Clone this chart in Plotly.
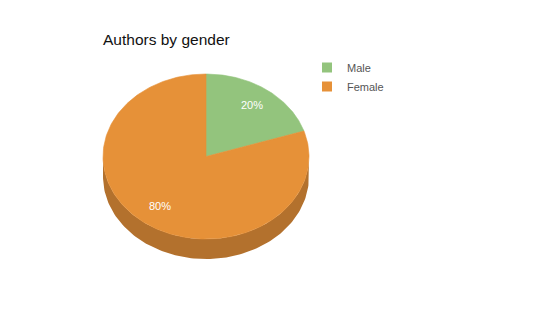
import numpy as np
import plotly.graph_objects as go

# ---- data ----
categories = ["Male", "Female"]
values = [20, 80]
colors = ["#93c47d", "#e69138"]
side_colors = ["#6f9a5d", "#b3712d"]
title_text = "Authors by gender"

# ---- geometry (unit ellipse; axes scale it) ----
W, H = 540, 334
cx_px, cy_px = 206, 156.5
rx_px, ry_px = 103, 82.5
depth = 20 / ry_px          # in y units
label_r = 0.76

x0 = -cx_px / rx_px
x1 = x0 + W / rx_px
y1 = cy_px / ry_px
y0 = y1 - H / ry_px

total = sum(values)
fracs = [v / total for v in values]

fig = go.Figure()

# compute slice angles (start at 12 o'clock, clockwise)
starts, ends = [], []
a = 90.0
for f in fracs:
    starts.append(a)
    ends.append(a - 360 * f)
    a = a - 360 * f

# side (3D depth) for each slice, visible on lower half (angles 180..360)
for i, (s, e) in enumerate(zip(starts, ends)):
    for k in (-1, 0, 1):
        lo, hi = -180 + 360 * k, 0 + 360 * k
        a_lo, a_hi = max(e, lo), min(s, hi)
        if a_hi > a_lo:
            th = np.radians(np.linspace(a_lo, a_hi, 120))
            xs = np.concatenate([np.cos(th), np.cos(th[::-1])])
            ys = np.concatenate([np.sin(th), np.sin(th[::-1]) - depth])
            fig.add_trace(go.Scatter(
                x=xs, y=ys, mode="lines", fill="toself",
                fillcolor=side_colors[i], line=dict(width=0, color=side_colors[i]),
                hoverinfo="skip", showlegend=False))

# top faces
for i, (s, e) in enumerate(zip(starts, ends)):
    th = np.radians(np.linspace(s, e, 240))
    xs = np.concatenate([[0], np.cos(th), [0]])
    ys = np.concatenate([[0], np.sin(th), [0]])
    fig.add_trace(go.Scatter(
        x=xs, y=ys, mode="lines", fill="toself",
        fillcolor=colors[i], line=dict(width=0.6, color=colors[i]),
        name=categories[i], legendgroup=categories[i],
        hoverinfo="skip", showlegend=False))

# labels
lx, ly, lt = [], [], []
for s, e, f in zip(starts, ends, fracs):
    m = np.radians((s + e) / 2)
    lx.append(label_r * np.cos(m))
    ly.append(label_r * np.sin(m))
    lt.append(f"{round(f * 100)}%")
fig.add_trace(go.Scatter(
    x=lx, y=ly, mode="text", text=lt,
    textfont=dict(color="white", size=11, family="Liberation Sans, Arial"),
    hoverinfo="skip", showlegend=False))

# legend entries
for i, c in enumerate(categories):
    fig.add_trace(go.Scatter(
        x=[None], y=[None], mode="markers", name=c, legendgroup=c,
        marker=dict(symbol="square", size=10, color=colors[i])))

fig.update_layout(
    width=W, height=H,
    margin=dict(l=0, r=0, t=0, b=0),
    paper_bgcolor="white", plot_bgcolor="white",
    xaxis=dict(range=[x0, x1], visible=False, fixedrange=True),
    yaxis=dict(range=[y0, y1], visible=False, fixedrange=True),
    title=dict(text=title_text, x=103 / W, xanchor="left",
               y=1 - 40 / H, yanchor="middle",
               font=dict(family="Liberation Sans, Arial", size=15.5, color="#111111")),
    legend=dict(x=307 / W, xanchor="left", y=1 - 53 / H, yanchor="top",
                bgcolor="rgba(0,0,0,0)", tracegroupgap=0,
                font=dict(family="Liberation Sans, Arial", size=11, color="#555555")),
    showlegend=True,
)

fig.write_html("out.html")
